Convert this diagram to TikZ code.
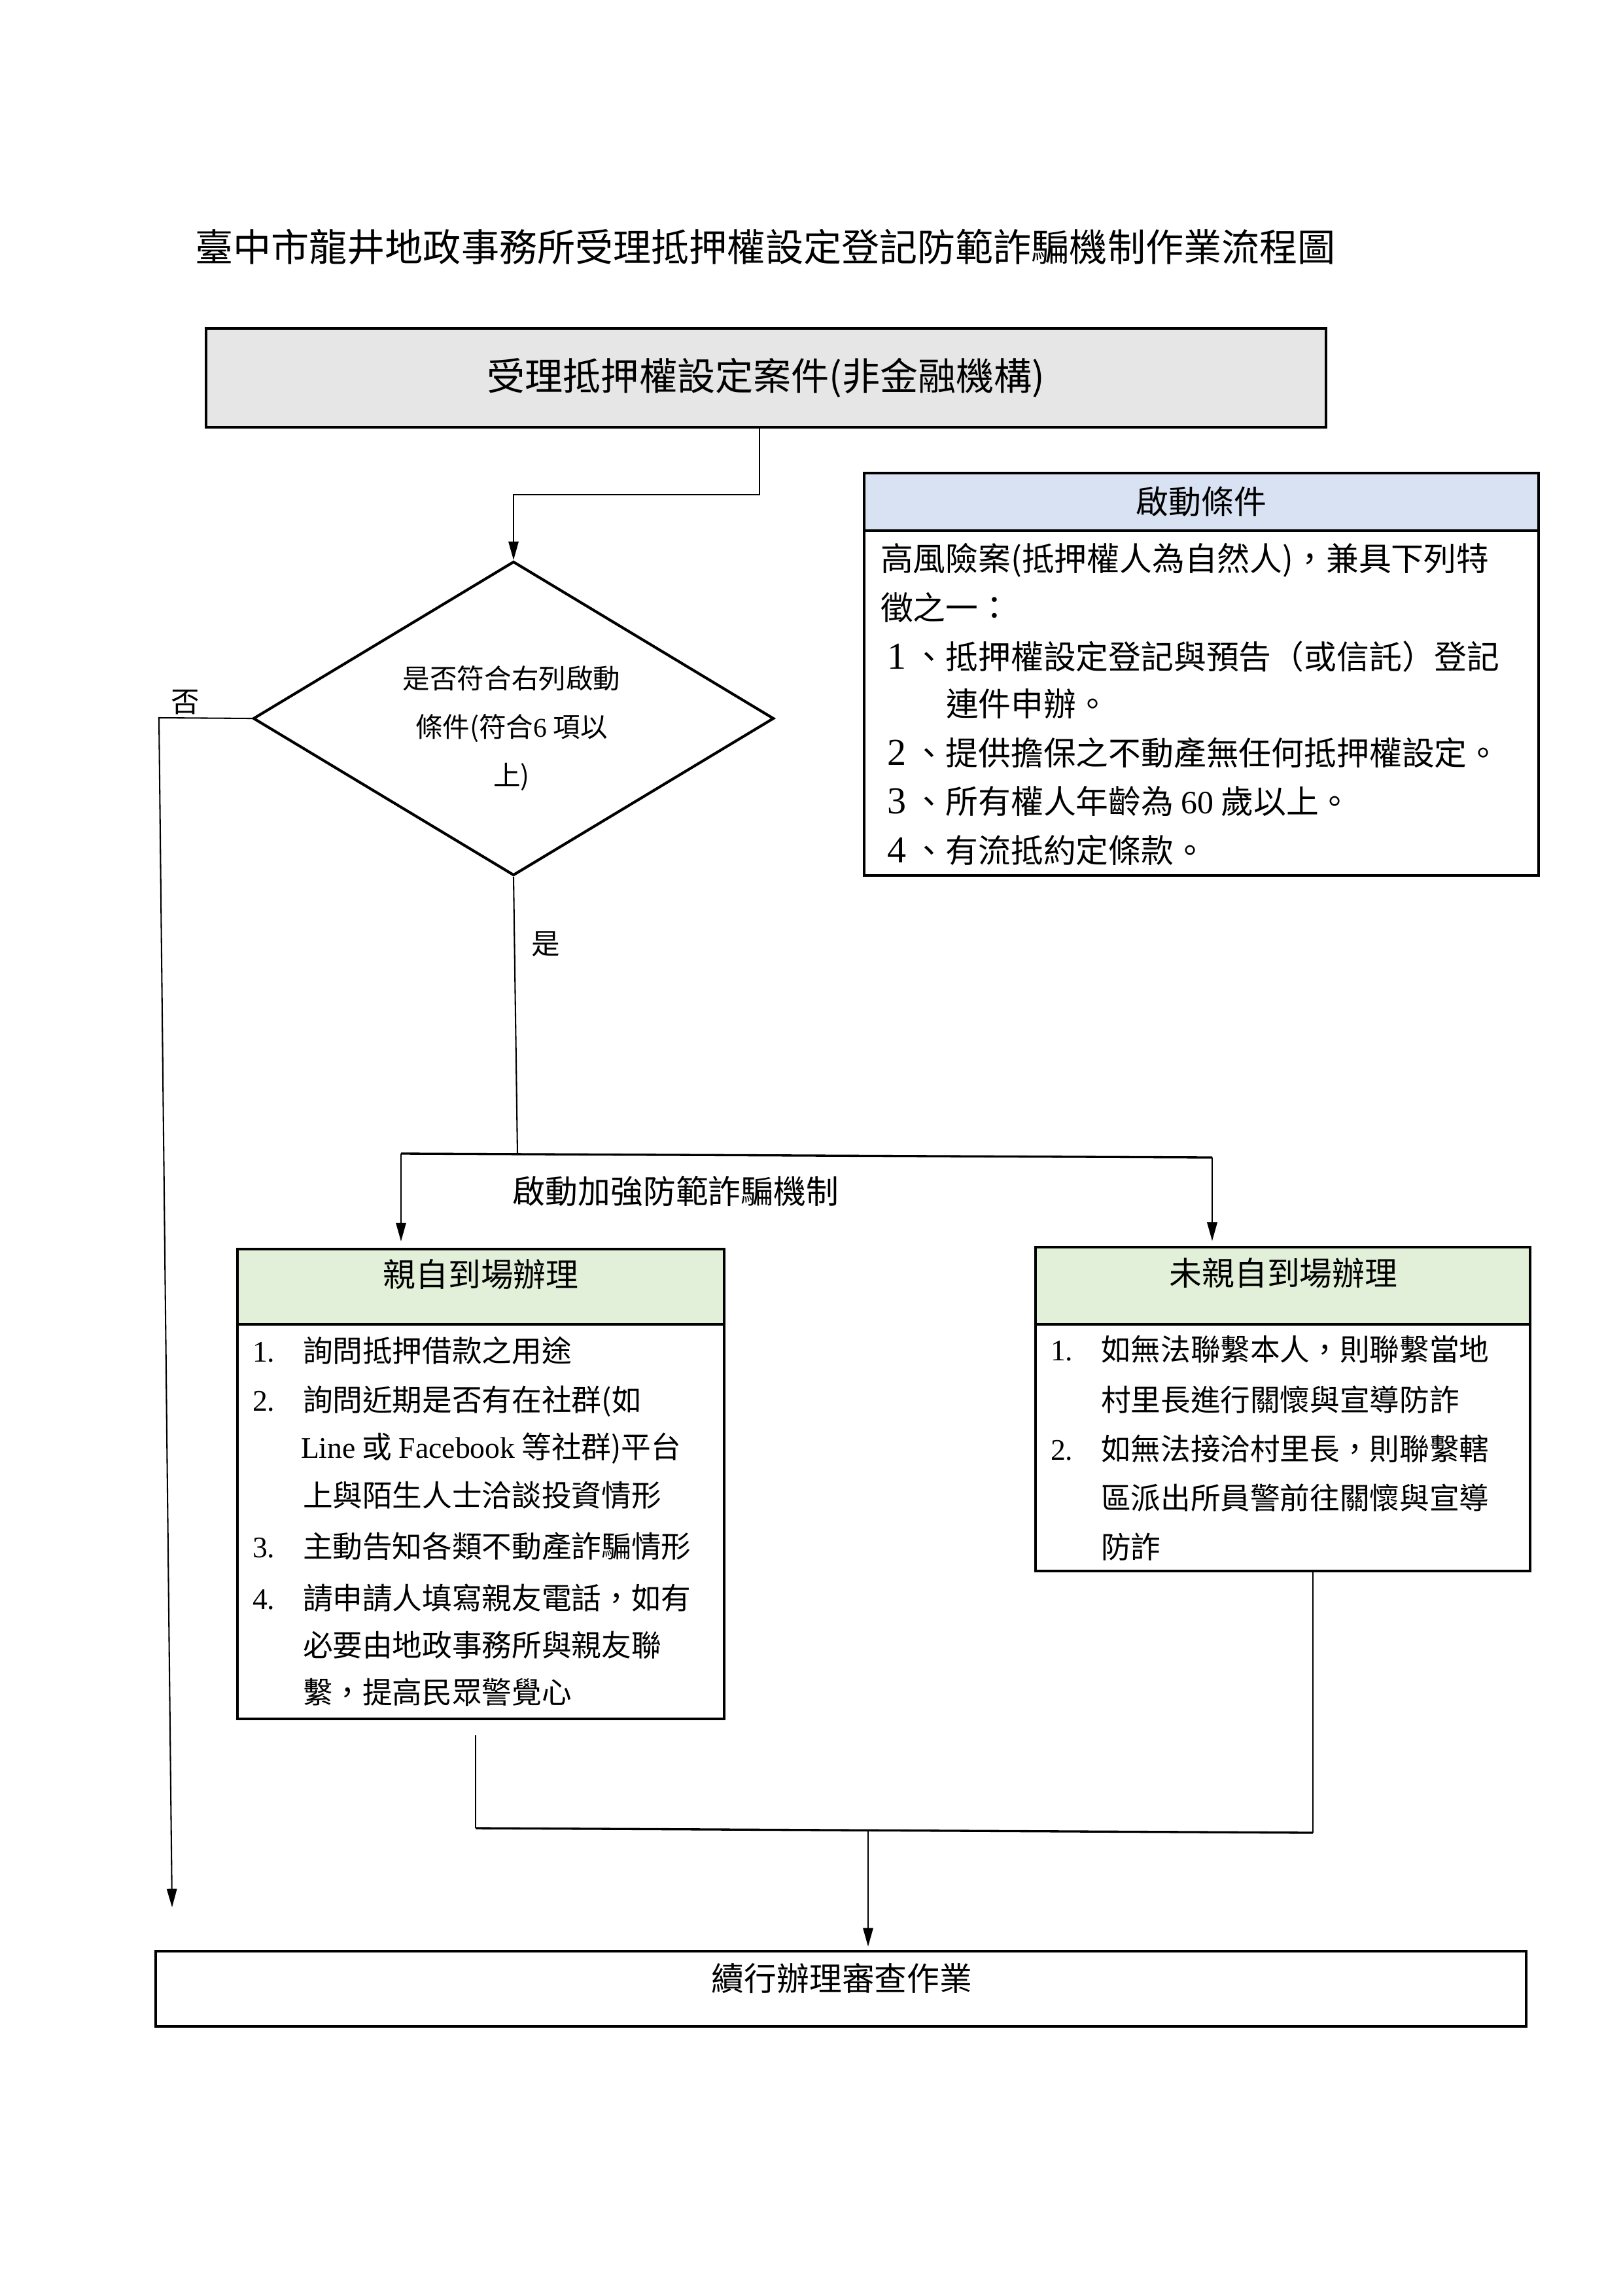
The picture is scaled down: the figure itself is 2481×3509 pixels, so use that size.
\documentclass[tikz,border=0pt]{standalone}
\usepackage{fontspec}
\setmainfont{Noto Sans CJK TC}
\newfontfamily\lat{Liberation Serif}
\usetikzlibrary{shapes.geometric,arrows.meta,calc}
\definecolor{gry}{HTML}{E7E6E6}
\definecolor{blu}{HTML}{D9E2F3}
\definecolor{grn}{HTML}{E2EFD9}
\newcommand\bigdig[1]{\makebox[1em]{\fontsize{14}{14}\lat #1}}
\begin{document}
\begin{tikzpicture}[x=0.0846667mm,y=-0.0846667mm,
  sz/.style 2 args={minimum width=#1*0.0846667mm, minimum height=#2*0.0846667mm},
  boxn/.style={draw, line width=0.75pt, anchor=north west, inner sep=0pt, outer sep=0pt},
  txt/.style={inner sep=0pt, outer sep=0pt},
  ln/.style={txt, anchor=base west, font=\fontsize{11}{13}\selectfont},
  cl/.style={txt, anchor=base west, font=\fontsize{12}{14}\selectfont},
  conn/.style={line width=0.5pt},
  conn2/.style={line width=0.8pt},
  arr/.style={conn, -{Triangle[length=2.4mm,width=1.3mm]}},
  f10/.style={font=\fontsize{10}{17.8}\selectfont},
  f11/.style={font=\fontsize{10.5}{13}\selectfont},
  f12/.style={font=\fontsize{12}{14}\selectfont},
  f14/.style={font=\fontsize{14}{16}\selectfont}
]
\fill[white] (0,0) rectangle (2481,3509);
\useasboundingbox (0,0) rectangle (2481,3509);

% title
\node[txt, f14] (title) at (1170,377) {臺中市龍井地政事務所受理抵押權設定登記防範詐騙機制作業流程圖};

% first box
\node[boxn, sz={1712}{151}, fill=gry, f14] (b1) at (315,502) {受理抵押權設定案件(非金融機構)};

% condition box
\node[boxn, sz={1031}{88}, fill=blu, f12] (ch) at (1321,723) {啟動條件};
\node[boxn, sz={1031}{527}] (cb) at (1321,811) {};
\node[cl] (c1) at (1346,872) {高風險案(抵押權人為自然人)，兼具下列特};
\node[cl] (c2) at (1346,947) {徵之一：};
\node[cl] (c3) at (1346,1022) {\bigdig{1}、抵押權設定登記與預告（或信託）登記};
\node[cl] (c4) at (1446,1094) {連件申辦。};
\node[cl] (c5) at (1346,1169) {\bigdig{2}、提供擔保之不動產無任何抵押權設定。};
\node[cl] (c6) at (1346,1243) {\bigdig{3}、所有權人年齡為 {\lat 60} 歲以上。};
\node[cl] (c7) at (1346,1318) {\bigdig{4}、有流抵約定條款。};

% decision
\node[draw, diamond, line width=1pt, sz={796}{480}, inner sep=0pt] (d) at (785,1098) {};
\node[txt, f10, align=center] (dt) at (782,1113) {是否符合右列啟動\\條件(符合{\lat 6} 項以\\上)};
\node[txt, f11] (no) at (283,1073) {否};
\node[txt, f11] (yes) at (834,1443) {是};
\node[txt, f12] (mech) at (1033,1820) {啟動加強防範詐騙機制};

% left box
\node[boxn, sz={744}{115}, fill=grn] (lh) at (363,1909) {};
\node[boxn, sz={744}{603}] (lb) at (363,2024) {};
\node[txt, f12] (lht) at (735,1948) {親自到場辦理};
\node[ln] (l1n) at (386,2081) {\lat 1.};
\node[ln] (l1) at (463,2081) {詢問抵押借款之用途};
\node[ln] (l2n) at (386,2156) {\lat 2.};
\node[ln] (l2) at (463,2156) {詢問近期是否有在社群(如};
\node[ln] (l3) at (460,2228) {{\lat Line} 或 {\lat Facebook} 等社群)平台};
\node[ln] (l4) at (463,2302) {上與陌生人士洽談投資情形};
\node[ln] (l5n) at (386,2380) {\lat 3.};
\node[ln] (l5) at (463,2380) {主動告知各類不動產詐騙情形};
\node[ln] (l6n) at (386,2459) {\lat 4.};
\node[ln] (l6) at (463,2459) {請申請人填寫親友電話，如有};
\node[ln] (l7) at (463,2531) {必要由地政事務所與親友聯};
\node[ln] (l8) at (463,2603) {繫，提高民眾警覺心};

% right box
\node[boxn, sz={756}{118}, fill=grn] (rh) at (1583,1906) {};
\node[boxn, sz={756}{377}] (rb) at (1583,2024) {};
\node[txt, f12] (rht) at (1962,1946) {未親自到場辦理};
\node[ln] (r1n) at (1606,2079) {\lat 1.};
\node[ln] (r1) at (1683,2079) {如無法聯繫本人，則聯繫當地};
\node[ln] (r2) at (1683,2156) {村里長進行關懷與宣導防詐};
\node[ln] (r3n) at (1606,2231) {\lat 2.};
\node[ln] (r3) at (1683,2231) {如無法接洽村里長，則聯繫轄};
\node[ln] (r4) at (1683,2306) {區派出所員警前往關懷與宣導};
\node[ln] (r5) at (1683,2381) {防詐};

% bottom box
\node[boxn, sz={2095}{115}] (bb) at (238,2982) {};
\node[txt, f12] (bbt) at (1287,3023) {續行辦理審查作業};

% connectors
\coordinate (k1) at (1161,756);
\draw[arr] (b1.south -| k1) -- (k1) -| (d.north);

\coordinate (nc) at (243,1097);
\coordinate (ne) at (263,2915);
\draw[arr] (d.west) -- (nc) -- (ne);

\coordinate (sj) at (791,1763);
\draw[conn] (d.south) -- (sj);
\coordinate (sl) at (613,1763);
\coordinate (sr) at (1853,1769);
\draw[conn2] (sl) -- (sr);
\draw[arr, shorten >=1mm] (sl) -- (sl |- lh.north);
\draw[arr, shorten >=0.8mm] (sr) -- (sr |- rh.north);

\coordinate (jl) at (727,2794);
\coordinate (jr) at (2007,2801);
\draw[conn, shorten <=2.1mm] (lb.south -| jl) -- (jl);
\draw[conn] (rb.south -| jr) -- (jr);
\draw[conn2] (jl) -- (jr);
\coordinate (jm) at (1327,2798);
\draw[arr, shorten >=0.6mm] (jm) -- (jm |- bb.north);
\end{tikzpicture}
\end{document}
